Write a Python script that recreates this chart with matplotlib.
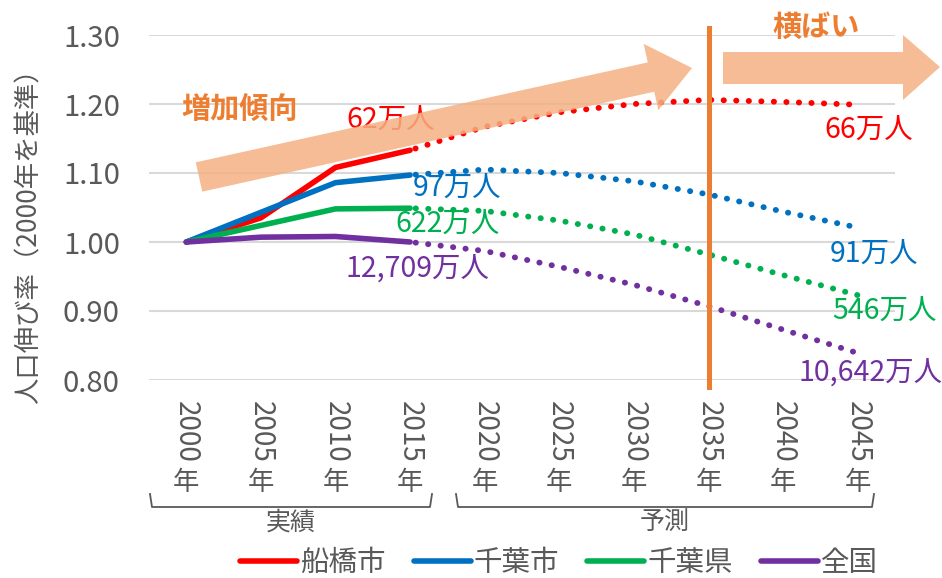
import numpy as np
import matplotlib
matplotlib.use('Agg')
import matplotlib.pyplot as plt
from matplotlib.patches import Polygon
from matplotlib.lines import Line2D

plt.rcParams['font.family'] = ['Noto Sans CJK JP', 'DejaVu Sans']

# Data (2000 = 1.00)
years = ['2000', '2005', '2010', '2015', '2020', '2025', '2030', '2035', '2040', '2045']
funabashi = [1.000, 1.035, 1.108, 1.133, 1.167, 1.188, 1.200, 1.206, 1.203, 1.199]
chiba_city = [1.000, 1.043, 1.086, 1.097, 1.105, 1.100, 1.088, 1.069, 1.044, 1.021]
chiba_pref = [1.000, 1.024, 1.048, 1.049, 1.045, 1.031, 1.011, 0.982, 0.952, 0.923]
japan = [1.000, 1.007, 1.008, 1.000, 0.987, 0.964, 0.938, 0.907, 0.873, 0.839]

names = ['船橋市', '千葉市', '千葉県', '全国']
colors = ['#FF0000', '#0070C0', '#00B050', '#7030A0']
labels_2015 = ['62万人', '97万人', '622万人', '12,709万人']
labels_2045 = ['66万人', '91万人', '546万人', '10,642万人']

W, H = 942, 578
fig = plt.figure(figsize=(W / 100, H / 100), dpi=100)
ax = fig.add_axes([149 / W, 1 - 380 / H, (895 - 149) / W, (380 - 35) / H])

def px(x, y):
    return (x / W, 1 - y / H)

x = np.arange(len(years))
last_actual = 3
series = [funabashi, chiba_city, chiba_pref, japan]

for vals, c, n in zip(series, colors, names):
    vals = np.array(vals)
    ax.plot(x[:last_actual + 1], vals[:last_actual + 1], color=c, lw=4,
            solid_capstyle='round', solid_joinstyle='round', label=n, zorder=3)
    ax.plot(x[last_actual:], vals[last_actual:], color=c, lw=4.2,
            linestyle=(1.2, (0.05, 2.1)), dash_capstyle='round', zorder=3)

ax.set_xlim(-0.5, len(years) - 0.5)
ax.set_ylim(0.80, 1.30)
ax.set_yticks(np.arange(0.80, 1.31, 0.10))
ax.set_yticklabels([f'{v:.2f}' for v in np.arange(0.80, 1.31, 0.10)])
ax.tick_params(axis='y', length=0, pad=21, labelsize=21, labelcolor='#595959')
ax.set_xticks([])
ax.grid(axis='y', color='#D9D9D9', lw=1.5)
ax.set_axisbelow(True)
for s in ax.spines.values():
    s.set_visible(False)

ax.set_ylabel('人口伸び率（2000年を基準）', fontsize=19, color='#595959')
ax.yaxis.set_label_coords(-0.143, 0.435)

# x tick labels: rotated digits + upright 年
for i, y in enumerate(years):
    ax.annotate(y, xy=(i, 0), xycoords=('data', 'axes fraction'),
                xytext=(0, -15), textcoords='offset points', rotation=-90,
                ha='center', va='top', fontsize=20, color='#595959')
    ax.annotate('年', xy=(i, 0), xycoords=('data', 'axes fraction'),
                xytext=(0, -74), textcoords='offset points',
                ha='center', va='center', fontsize=19, color='#595959')

# data labels
offs_2015 = [(-14, 22), (34, -9), (27, -11), (5, -19)]
for vals, c, t, o in zip(series, colors, labels_2015, offs_2015):
    ax.annotate(t, xy=(last_actual, vals[last_actual]), xytext=o,
                textcoords='offset points', ha='center', va='center',
                fontsize=20.5, color=c, zorder=4)
offs_2045 = [(8, -18), (12, -19), (19, -11.5), (9, -14)]
for vals, c, t, o in zip(series, colors, labels_2045, offs_2045):
    ax.annotate(t, xy=(len(years) - 1, vals[-1]), xytext=o,
                textcoords='offset points', ha='center', va='center',
                fontsize=20.5, color=c, zorder=4, annotation_clip=False)

# vertical line at 2035
ax.plot([7, 7], [-0.02, 1.02], color='#ED7D31', lw=3.6,
        transform=ax.get_xaxis_transform(), clip_on=False, zorder=5)

# arrows (pixel geometry)
tail = np.array([199.0, 177.0])
tip = np.array([692.0, 68.0])
d = tip - tail
u = d / np.hypot(*d)
nrm = np.array([-u[1], u[0]])
hb = tip - 42 * u
pts = [tail + 15 * nrm, hb + 15 * nrm, hb + 34 * nrm, tip,
       hb - 34 * nrm, hb - 15 * nrm, tail - 15 * nrm]
fig.patches.append(Polygon([px(*p) for p in pts], closed=True, transform=fig.transFigure,
                           facecolor='#F4B183', edgecolor='none', alpha=0.85, zorder=6))
pts2 = [(723, 52), (903, 52), (903, 35), (940, 67), (903, 100), (903, 84), (723, 84)]
fig.patches.append(Polygon([px(*p) for p in pts2], closed=True, transform=fig.transFigure,
                           facecolor='#F4B183', edgecolor='none', alpha=0.85, zorder=6))

fig.text(*px(240, 110), '増加傾向', ha='center', va='center', fontsize=21,
         fontweight='bold', color='#ED7D31')
fig.text(*px(816, 27), '横ばい', ha='center', va='center', fontsize=21,
         fontweight='bold', color='#ED7D31')

# brackets
for x0, x1, lab in [(150, 432, '実績'), (456, 874, '予測')]:
    xs = [x0, x0 + 2, x1 - 2, x1]
    ys = [494, 507, 507, 494]
    fx, fy = zip(*[px(a, b) for a, b in zip(xs, ys)])
    fig.add_artist(Line2D(fx, fy, transform=fig.transFigure, color='#595959', lw=1.3))
    fig.text(*px((x0 + x1) / 2, 523), lab, ha='center', va='center',
             fontsize=18, color='#595959')

fig.legend(loc='center', bbox_to_anchor=px(559, 563), bbox_transform=fig.transFigure,
           ncol=4, frameon=False, fontsize=20.5, handlelength=2.0, handletextpad=0.1,
           columnspacing=1.0, labelcolor='#595959', borderaxespad=0)

fig.savefig('out.png', dpi=100)
